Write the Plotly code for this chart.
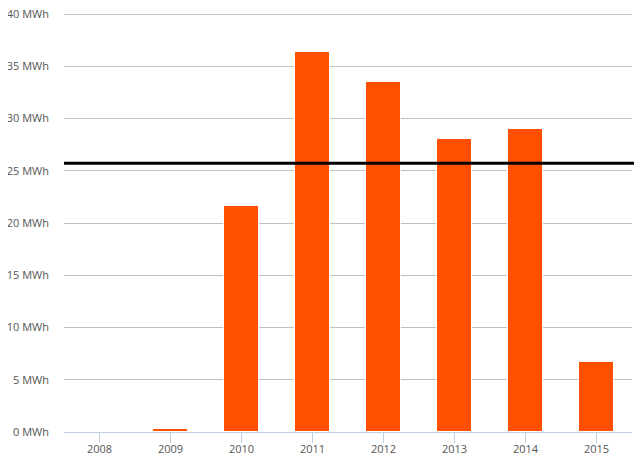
import plotly.graph_objects as go

years = ["2008", "2009", "2010", "2011", "2012", "2013", "2014", "2015"]
energy_mwh = [0.0, 0.3, 21.66, 36.33, 33.5, 28.0, 29.0, 6.73]
average_mwh = 25.72
y_ticks = [0, 5, 10, 15, 20, 25, 30, 35, 40]

fig = go.Figure()
fig.add_trace(go.Bar(
    x=years, y=energy_mwh,
    width=0.48,
    marker=dict(color="#FF5000", line=dict(color="#FFFFFF", width=1)),
    hoverinfo="skip",
))

fig.add_shape(type="line", xref="paper", yref="y",
              x0=0, x1=1 + 10 / 568, y0=average_mwh, y1=average_mwh,
              line=dict(color="#000000", width=3), layer="above")

# page body adds an 8px offset; figure sized to fit the 642x462 window
fig.update_layout(
    width=634, height=454,
    margin=dict(l=56, r=10, t=4.2, b=29.7),
    plot_bgcolor="#FFFFFF", paper_bgcolor="#FFFFFF",
    showlegend=False,
    font=dict(family="Open Sans", size=11, color="#555555"),
    bargap=0,
)
fig.update_xaxes(
    type="category", automargin=False,
    showline=True, linecolor="#C0D0E0", linewidth=1,
    ticks="outside", ticklen=10, tickcolor="#C0D0E0", tickwidth=1,
    ticklabelstandoff=-3,
    showgrid=False,
    tickfont=dict(family="Open Sans", size=11, color="#555555"),
)
fig.update_yaxes(
    automargin=False, ticklabeloverflow="allow",
    range=[0, 40.2], tickvals=y_ticks, ticktext=[f"{v} MWh" for v in y_ticks],
    showgrid=True, gridcolor="#C0C0C0", gridwidth=1,
    zeroline=False, showline=False, ticks="",
    ticklabelstandoff=14,
    tickfont=dict(family="Open Sans", size=11, color="#555555"),
)

fig.write_html("out.html")
